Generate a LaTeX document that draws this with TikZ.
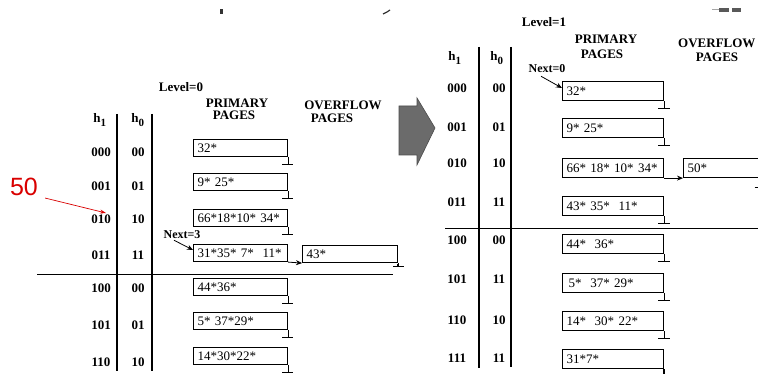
\documentclass[tikz,border=0pt]{standalone}
\usepackage{fontspec}
\setmainfont{Liberation Serif}
\newfontfamily\sansarial{Liberation Sans}
\usetikzlibrary{arrows.meta}
\newcommand\hsub[1]{\textbf{h}\textsubscript{\fontsize{11}{12}\selectfont #1}}
\begin{document}
\begin{tikzpicture}[x=1pt,y=-1pt,
  lab/.style={font=\fontsize{13}{14}\selectfont\bfseries, inner sep=0pt},
  lbox/.style={draw, line width=1.1pt, anchor=north west, text width=86pt, inner xsep=4pt,
    inner ysep=0pt, minimum height=17pt, align=left, font=\fontsize{13}{14}\selectfont},
  rbox/.style={lbox, text width=93pt, minimum height=19pt},
  ln/.style={line width=1.1pt},
  sep/.style={line width=0.8pt},
  ptr/.style={line width=0.8pt, -{Stealth[length=6pt,width=5pt]}}
]
\useasboundingbox (0,0) rectangle (758,374);
\clip (0,0) rectangle (758,374);
\fill[white] (0,0) rectangle (758,374);

% stray marks at the top
\fill[black!80] (220,9) rectangle (222.5,14);
\draw[black!80, line width=1.2pt] (383,14) -- (387,12) -- (390,10);
\fill[black!35] (712,9) rectangle (719,10.5);
\fill[black!65] (719,8) rectangle (729,12.5);
\fill[black!65] (732,8) rectangle (741,12.5);

% ================= LEFT (Level=0) =================
\node[lab] (lev0) at (181,87) {Level=0};
\node[lab] (pp0a) at (237,103) {PRIMARY};
\node[lab] (pp0b) at (234,115) {PAGES};
\node[lab] (op0a) at (343,105) {OVERFLOW};
\node[lab] (op0b) at (332,118) {PAGES};
\node[lab] (lh1) at (100,120) {\hsub{1}};
\node[lab] (lh0) at (138,120) {\hsub{0}};
\draw[ln] (117,114) -- (117,371);
\draw[ln] (152,114) -- (152,371);
\draw[sep] (37,274) -- (393,274);

\foreach \a/\b/\y/\n in {000/00/152/a0, 001/01/186/a1, 010/10/219/a2, 011/11/255/a3,
                         100/00/288/a4, 101/01/325/a5, 110/10/362/a6}{
  \node[lab] (l\n) at (101,\y) {\a};
  \node[lab] (m\n) at (138,\y) {\b};
}

\node[lbox] (L0) at (193,139) {32*};
\node[lbox] (L1) at (193,173) {9* 25*};
\node[lbox] (L2) at (193,209) {66*18*10* 34*};
\node[lbox] (L3) at (193,244) {31*35* 7*\ \ 11*};
\node[lbox, text width=87pt] (O3) at (302,245) {43*};
\node[lbox] (L4) at (193,278) {44*36*};
\node[lbox] (L5) at (193,312) {5* 37*29*};
\node[lbox] (L6) at (193,347) {14*30*22*};

\foreach \b in {L0,L1,L2,L4,L5,L6}{
  \draw[ln] (\b.south east) -- ++(0,7.5) ++(-6,0) -- ++(11,0);
}
\draw[ln] (O3.south east) -- ++(0,3.5) ++(-5,0) -- ++(11,0);
\draw[line width=1.8pt] ([yshift=-1pt]O3.south east) -- ++(0,3);

\node[lab, font=\fontsize{12}{13}\selectfont\bfseries] (n3) at (182,235) {Next=3};
\draw[ptr] ([xshift=-8pt,yshift=-1pt]n3.south) -- ([yshift=-6pt]L3.north west);
\draw[ptr] (L3.south east) -- (O3.south west);

% red "50" annotation
\node[inner sep=0pt, text=red!85!black, font=\sansarial\fontsize{25}{26}\selectfont] (r50) at (24,187) {50};
\coordinate (t50) at (106,213);
\draw[red!85!black, line width=0.7pt, -{Stealth[length=6pt,width=4pt]}] ([xshift=7pt,yshift=-2pt]r50.south east) -- (t50);

% big grey arrow
\filldraw[fill=black!58, draw=black!70, line width=0.6pt]
  (399,106) -- (417,106) -- (417,98) -- (435,128) -- (417,165) -- (417,155) -- (399,155) -- cycle;

% ================= RIGHT (Level=1) =================
\node[lab] (lev1) at (544,22) {Level=1};
\node[lab] (pp1a) at (606,39) {PRIMARY};
\node[lab] (pp1b) at (602,54) {PAGES};
\node[lab, anchor=west] (op1a) at (678,43) {OVERFLOW};
\node[lab] (op1b) at (717,57) {PAGES};
\node[lab] (rh1) at (455,58) {\hsub{1}};
\node[lab] (rh0) at (497,58) {\hsub{0}};
\draw[ln] (479,47) -- (479,368);
\draw[ln] (511,47) -- (511,367);
\draw[sep] (445,228) -- (758,228);

\foreach \a/\b/\y/\n in {000/00/88/b0, 001/01/127/b1, 010/10/163/b2, 011/11/202/b3,
                         100/00/240/b4, 101/11/279/b5, 110/10/320/b6, 111/11/358/b7}{
  \node[lab] (l\n) at (457,\y) {\a};
  \node[lab] (m\n) at (499,\y) {\b};
}

\node[rbox] (R0) at (562,81) {32*};
\node[rbox] (R1) at (562,118) {9* 25*};
\node[rbox] (R2) at (562,158) {66* 18* 10* 34*};
\node[lbox, text width=68.5pt, minimum height=19pt] (Q2) at (683,158) {50*};
\node[rbox] (R3) at (562,196) {43* 35*\ \ 11*};
\node[rbox] (R4) at (562,234) {44*\ \ 36*};
\node[rbox] (R5) at (562,273) {\,5*\ \ 37* 29*};
\node[rbox] (R6) at (562,311) {14*\ \ 30* 22*};
\node[rbox] (R7) at (562,349) {31*7*};

\foreach \b in {R0,R1,R3,R4,R5,R6}{
  \draw[ln] (\b.south east) -- ++(0,7) ++(-6,0) -- ++(12,0);
}
\draw[ln] (Q2.south east) -- ++(0,9) ++(-6,0) -- ++(12,0);
\draw[line width=1.8pt] (R7.south east) -- ++(0,10);

\node[lab, font=\fontsize{12}{13}\selectfont\bfseries] (n0) at (547,69) {Next=0};
\draw[ptr] ([xshift=-6pt,yshift=-3pt]n0.south) -- ([yshift=-7pt]R0.north west);
\draw[ptr] (R2.south east) -- (Q2.south west);
\end{tikzpicture}
\end{document}
